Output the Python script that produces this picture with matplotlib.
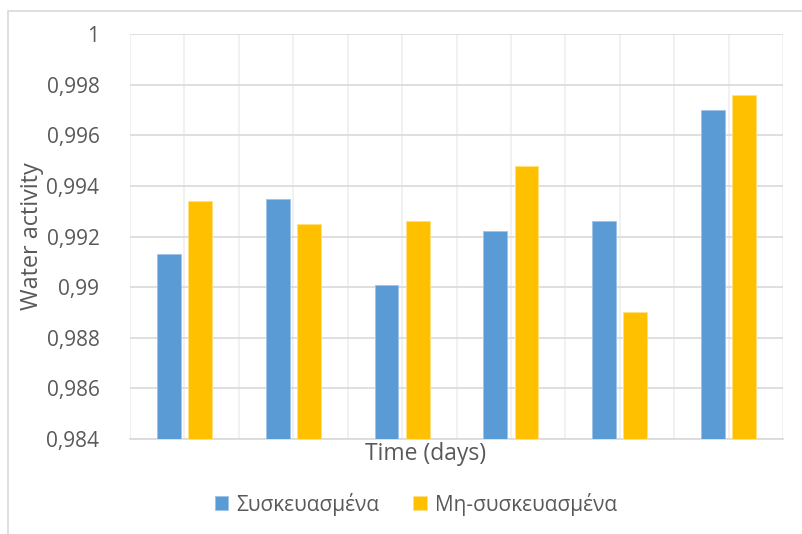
import matplotlib
matplotlib.use("Agg")
import matplotlib.pyplot as plt
from matplotlib.patches import Rectangle
from matplotlib.ticker import FixedLocator, FuncFormatter
import numpy as np

plt.rcParams['font.family'] = ['Open Sans', 'DejaVu Sans']

# Water activity per sampling day
packed = [0.9913, 0.9935, 0.9901, 0.9922, 0.9926, 0.9970]
unpacked = [0.9934, 0.9925, 0.9926, 0.9948, 0.9890, 0.9976]
series_names = ["Συσκευασμένα", "Μη-συσκευασμένα"]
y_ticks = [0.984, 0.986, 0.988, 0.990, 0.992, 0.994, 0.996, 0.998, 1.0]

blue = "#5B9BD5"
gold = "#FFC000"
text_col = "#595959"

fig = plt.figure(figsize=(8.03, 5.34), dpi=100)
ax = fig.add_axes([0.1619, 0.1779, 0.8132, 0.7584])

x = np.arange(len(packed)) + 0.5
w = 0.22
off = 0.143
ax.bar(x - off, packed, w, color=blue, label=series_names[0], zorder=3,
       edgecolor="#9DC3E6", linewidth=0.6)
ax.bar(x + off, unpacked, w, color=gold, label=series_names[1], zorder=3,
       edgecolor="#FFE080", linewidth=0.6)

ax.set_xlim(0, len(packed))
ax.set_ylim(0.984, 1.0)
ax.yaxis.set_major_locator(FixedLocator(y_ticks))
ax.yaxis.set_major_formatter(FuncFormatter(lambda v, p: f"{v:g}".replace(".", ",")))
ax.xaxis.set_major_locator(FixedLocator(np.arange(0, len(packed) + 0.01, 0.5)))
ax.set_xticklabels([])

ax.grid(axis="y", color="#d9d9d9", linewidth=1.2, zorder=0)
ax.grid(axis="x", color="#efefef", linewidth=1.2, zorder=0)
for s in ["top", "right", "left"]:
    ax.spines[s].set_visible(False)
ax.spines["bottom"].set_color("#d9d9d9")
ax.spines["bottom"].set_linewidth(1.2)
ax.tick_params(axis="both", length=0, labelsize=15, labelcolor=text_col, pad=22)
ax.tick_params(axis="x", pad=0)

fig.text(32 / 803, 1 - 236 / 534, "Water activity", rotation=90, ha="center",
         va="center", fontsize=16.8, color=text_col)
fig.text(426 / 803, 1 - 454 / 534, "Time (days)", ha="center", va="center",
         fontsize=16.5, color=text_col)

leg = fig.legend(loc="center", bbox_to_anchor=(416 / 803, 1 - 504 / 534),
                 ncol=2, frameon=False, fontsize=15, handlelength=0.65,
                 handleheight=0.65, handletextpad=0.4, columnspacing=1.6)
for t in leg.get_texts():
    t.set_color(text_col)

# outer chart frame
fig.patches.append(Rectangle((8 / 803, -0.1), 1.2, 1 - 11 / 534 + 0.1,
                             transform=fig.transFigure, fill=False,
                             edgecolor="#d9d9d9", linewidth=1.2))

fig.savefig("out.png", dpi=100)
